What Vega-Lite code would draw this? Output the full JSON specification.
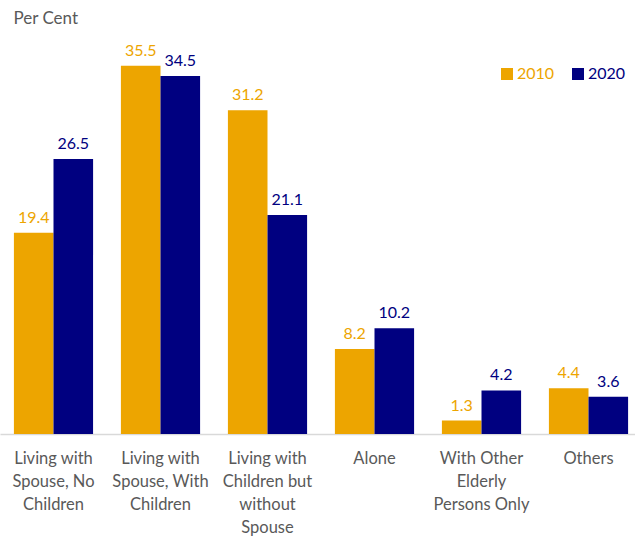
{
  "$schema": "https://vega.github.io/schema/vega-lite/v6.json",
  "width": 642,
  "height": 415,
  "autosize": {"type": "none"},
  "padding": {"left": 0, "top": 19, "right": 0, "bottom": 104},
  "config": {"view": {"stroke": null}, "font": "Lato"},
  "data": {
    "values": [
      {"cat": "Living with|Spouse, No|Children", "year": "2010", "value": 19.4},
      {"cat": "Living with|Spouse, No|Children", "year": "2020", "value": 26.5},
      {"cat": "Living with|Spouse, With|Children", "year": "2010", "value": 35.5},
      {"cat": "Living with|Spouse, With|Children", "year": "2020", "value": 34.5},
      {"cat": "Living with|Children but|without|Spouse", "year": "2010", "value": 31.2},
      {"cat": "Living with|Children but|without|Spouse", "year": "2020", "value": 21.1},
      {"cat": "Alone", "year": "2010", "value": 8.2},
      {"cat": "Alone", "year": "2020", "value": 10.2},
      {"cat": "With Other|Elderly|Persons Only", "year": "2010", "value": 1.3},
      {"cat": "With Other|Elderly|Persons Only", "year": "2020", "value": 4.2},
      {"cat": "Others", "year": "2010", "value": 4.4},
      {"cat": "Others", "year": "2020", "value": 3.6}
    ]
  },
  "encoding": {
    "x": {
      "field": "cat",
      "type": "nominal",
      "sort": null,
      "scale": {"paddingInner": 0.26, "paddingOuter": 0.13},
      "axis": {
        "title": null,
        "labelAngle": 0,
        "labelExpr": "split(datum.label, '|')",
        "labelFontSize": 16.5,
        "labelColor": "#595959",
        "labelLineHeight": 23,
        "labelPadding": 16,
        "ticks": false,
        "domainColor": "#d9d9d9",
        "domainWidth": 1.5,
        "grid": false
      }
    },
    "xOffset": {"field": "year", "type": "nominal"},
    "y": {
      "field": "value",
      "type": "quantitative",
      "scale": {"domain": [0, 40]},
      "axis": {
        "title": "Per Cent",
        "titleAngle": 0,
        "titleAlign": "left",
        "titleBaseline": "middle",
        "titleX": 13,
        "titleY": -1,
        "titleFontSize": 17,
        "titleFontWeight": "normal",
        "titleColor": "#595959",
        "labels": false,
        "ticks": false,
        "domain": false,
        "grid": false
      }
    },
    "color": {
      "field": "year",
      "type": "nominal",
      "scale": {"domain": ["2010", "2020"], "range": ["#EDA500", "#000080"]},
      "legend": {
        "title": null,
        "orient": "none",
        "direction": "horizontal",
        "legendX": 499,
        "legendY": 47,
        "padding": 0,
        "symbolType": "square",
        "symbolSize": 144,
        "symbolStrokeWidth": 0,
        "labelFontSize": 16,
        "labelOffset": 2,
        "columnPadding": 15,
        "encode": {
          "labels": {"update": {"fill": {"signal": "datum.label == '2010' ? '#EDA500' : '#000080'"}}}
        }
      }
    }
  },
  "layer": [
    {"mark": {"type": "bar"}},
    {
      "mark": {"type": "text", "baseline": "bottom", "dy": -7, "fontSize": 16},
      "encoding": {"text": {"field": "value", "type": "quantitative", "format": ".1f"}}
    }
  ]
}
